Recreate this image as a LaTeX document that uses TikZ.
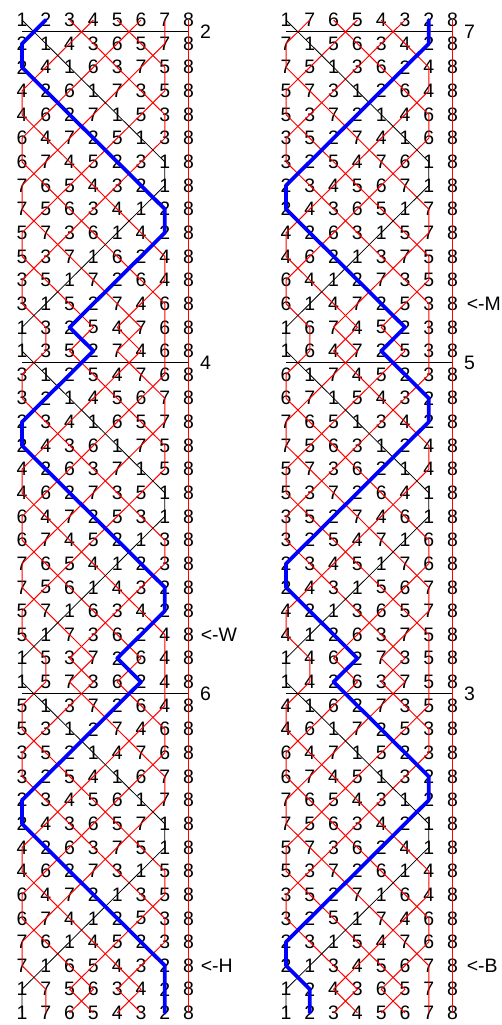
\documentclass[tikz,border=0pt]{standalone}
\usepackage{fontspec}
\setmainfont{Liberation Sans}
\usetikzlibrary{calc}
\newcommand\drawringcol[3]{%
  \foreach \row [count=\r from 0] in {#3} {
    \foreach \d [count=\p] in \row {
      \node[digit] (#1-\r-\p) at ({#2+(\p-1)*23.8},{20+\r*23.64}) {\d};
      \coordinate (#1-\r-b\d) at (#1-\r-\p.center);
    }
  }
}
\newcommand\drawbell[3]{%
  \draw[#3] (#1-0-b#2) \foreach \r in {1,...,42} { -- (#1-\r-b#2) };
}
\begin{document}
\begin{tikzpicture}[x=0.75pt,y=-0.75pt,
  digit/.style={inner sep=0pt, font=\fontsize{14.6}{17}\selectfont, text=black},
  lbl/.style={inner sep=0pt, font=\fontsize{14.6}{17}\selectfont, text=black},
  redbell/.style={draw=red, line width=0.75pt, line join=round},
  treble/.style={draw=black, line width=0.6pt, line join=round},
  bluebell/.style={draw=blue, line width=2.8pt, line join=round, line cap=round},
  leadline/.style={draw=black, line width=0.6pt}]

\path[use as bounding box, fill=white] (0,0) rectangle (502,1025);

\drawringcol{L}{22}{%
{1,2,3,4,5,6,7,8},{2,1,4,3,6,5,7,8},{2,4,1,6,3,7,5,8},{4,2,6,1,7,3,5,8},
{4,6,2,7,1,5,3,8},{6,4,7,2,5,1,3,8},{6,7,4,5,2,3,1,8},{7,6,5,4,3,2,1,8},
{7,5,6,3,4,1,2,8},{5,7,3,6,1,4,2,8},{5,3,7,1,6,2,4,8},{3,5,1,7,2,6,4,8},
{3,1,5,2,7,4,6,8},{1,3,2,5,4,7,6,8},{1,3,5,2,7,4,6,8},{3,1,2,5,4,7,6,8},
{3,2,1,4,5,6,7,8},{2,3,4,1,6,5,7,8},{2,4,3,6,1,7,5,8},{4,2,6,3,7,1,5,8},
{4,6,2,7,3,5,1,8},{6,4,7,2,5,3,1,8},{6,7,4,5,2,1,3,8},{7,6,5,4,1,2,3,8},
{7,5,6,1,4,3,2,8},{5,7,1,6,3,4,2,8},{5,1,7,3,6,2,4,8},{1,5,3,7,2,6,4,8},
{1,5,7,3,6,2,4,8},{5,1,3,7,2,6,4,8},{5,3,1,2,7,4,6,8},{3,5,2,1,4,7,6,8},
{3,2,5,4,1,6,7,8},{2,3,4,5,6,1,7,8},{2,4,3,6,5,7,1,8},{4,2,6,3,7,5,1,8},
{4,6,2,7,3,1,5,8},{6,4,7,2,1,3,5,8},{6,7,4,1,2,5,3,8},{7,6,1,4,5,2,3,8},
{7,1,6,5,4,3,2,8},{1,7,5,6,3,4,2,8},{1,7,6,5,4,3,2,8}}

\drawringcol{R}{286}{%
{1,7,6,5,4,3,2,8},{7,1,5,6,3,4,2,8},{7,5,1,3,6,2,4,8},{5,7,3,1,2,6,4,8},
{5,3,7,2,1,4,6,8},{3,5,2,7,4,1,6,8},{3,2,5,4,7,6,1,8},{2,3,4,5,6,7,1,8},
{2,4,3,6,5,1,7,8},{4,2,6,3,1,5,7,8},{4,6,2,1,3,7,5,8},{6,4,1,2,7,3,5,8},
{6,1,4,7,2,5,3,8},{1,6,7,4,5,2,3,8},{1,6,4,7,2,5,3,8},{6,1,7,4,5,2,3,8},
{6,7,1,5,4,3,2,8},{7,6,5,1,3,4,2,8},{7,5,6,3,1,2,4,8},{5,7,3,6,2,1,4,8},
{5,3,7,2,6,4,1,8},{3,5,2,7,4,6,1,8},{3,2,5,4,7,1,6,8},{2,3,4,5,1,7,6,8},
{2,4,3,1,5,6,7,8},{4,2,1,3,6,5,7,8},{4,1,2,6,3,7,5,8},{1,4,6,2,7,3,5,8},
{1,4,2,6,3,7,5,8},{4,1,6,2,7,3,5,8},{4,6,1,7,2,5,3,8},{6,4,7,1,5,2,3,8},
{6,7,4,5,1,3,2,8},{7,6,5,4,3,1,2,8},{7,5,6,3,4,2,1,8},{5,7,3,6,2,4,1,8},
{5,3,7,2,6,1,4,8},{3,5,2,7,1,6,4,8},{3,2,5,1,7,4,6,8},{2,3,1,5,4,7,6,8},
{2,1,3,4,5,6,7,8},{1,2,4,3,6,5,7,8},{1,2,3,4,5,6,7,8}}

% lead-end dividers and place-bell labels
\foreach \col/\r/\t in {L/0/2, L/14/4, L/28/6, R/0/7, R/14/5, R/28/3} {
  \pgfmathtruncatemacro\rn{\r+1}
  \draw[leadline] ($(\col-\r-1.center)!0.5!(\col-\rn-1.center)$) -- ($(\col-\r-8.center)!0.5!(\col-\rn-8.center)$);
  \node[lbl] (lab-\col-\r) at ($(\col-\r-8.center)!0.5!(\col-\rn-8.center)+(17,0)$) {\t};
}

% call positions
\node[lbl, anchor=west] (call-W) at ($(L-26-8.center)+(12,0)$) {<-W};
\node[lbl, anchor=west] (call-H) at ($(L-40-8.center)+(12,0)$) {<-H};
\node[lbl, anchor=west] (call-M) at ($(R-12-8.center)+(14,0)$) {<-M};
\node[lbl, anchor=west] (call-B) at ($(R-40-8.center)+(14,0)$) {<-B};

% bell paths
\foreach \col in {L,R} {
  \foreach \b in {3,...,8} { \drawbell{\col}{\b}{redbell} }
  \drawbell{\col}{1}{treble}
  \drawbell{\col}{2}{bluebell}
}
\end{tikzpicture}
\end{document}
